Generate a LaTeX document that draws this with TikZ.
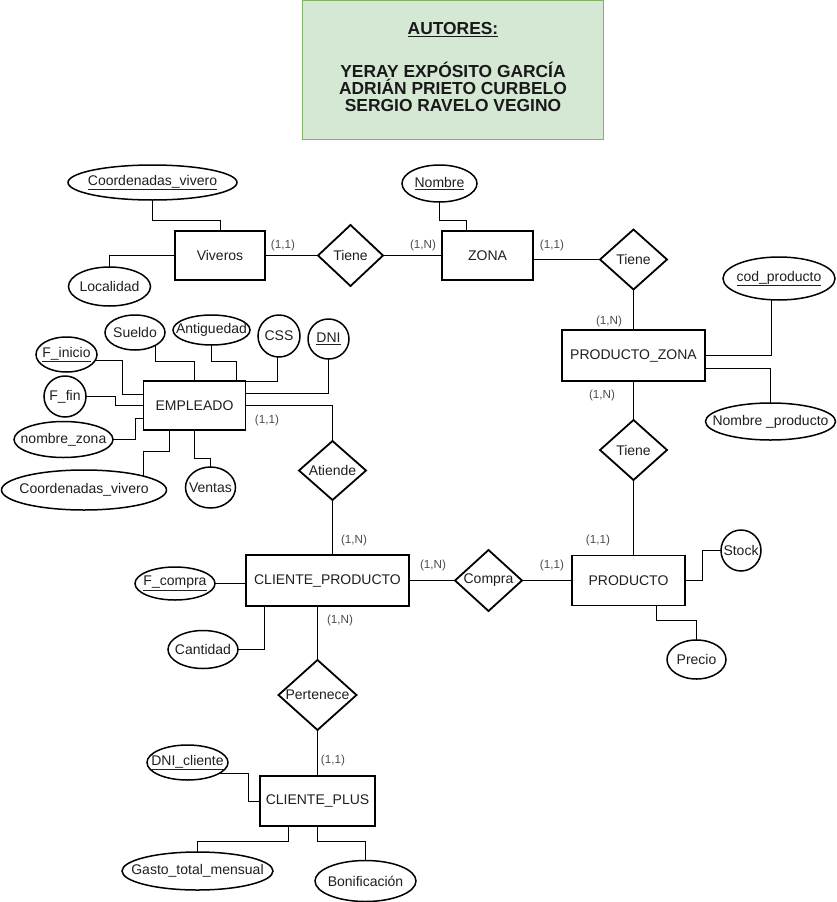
\documentclass[tikz,border=0pt]{standalone}
\usepackage{fontspec}
\setmainfont{Liberation Sans}
\usetikzlibrary{shapes.geometric,backgrounds}
% zero-width text so the shape keeps the size it is given
\newcommand\zw[1]{\makebox[0pt]{#1}}
\definecolor{titlefill}{HTML}{D5E8D4}
\definecolor{titleline}{HTML}{82B366}
\definecolor{cardtxt}{HTML}{4D4D4D}
\begin{document}
\begin{tikzpicture}[x=1pt,y=-1pt,
  base/.style={draw=black, fill=white, inner sep=0pt, outer sep=0pt,
    font=\fontsize{14}{16}\selectfont, text=black!88},
  entity/.style={base, rectangle, line width=1.8pt},
  rel/.style={base, diamond, line width=1.8pt},
  attr/.style={base, ellipse, line width=1.5pt},
  sz/.style args={#1x#2}{minimum width=#1pt, minimum height=#2pt},
  card/.style={inner sep=0pt, font=\fontsize{11.7}{14}\selectfont, text=cardtxt},
  link/.style={draw=black, line width=1pt},
  titletxt/.style={anchor=base, inner sep=0pt, font=\bfseries\fontsize{17.4}{20}\selectfont, text=black!90},
]
\useasboundingbox (0,0) rectangle (837,902);

% authors box
\node[draw=titleline, fill=titlefill, line width=1pt, sz=301x139, inner sep=0pt] (autores) at (453,70) {};
\node[titletxt] (t0) at (453,34.5) {\underline{AUTORES:}};
\node[titletxt] (t1) at (453,77.5) {YERAY EXPÓSITO GARCÍA};
\node[titletxt] (t2) at (453,94.5) {ADRIÁN PRIETO CURBELO};
\node[titletxt] (t3) at (453,111.5) {SERGIO RAVELO VEGINO};

% entities
\node[entity, sz=90x49]  (viv)   at (220,255.5)   {\zw{Viveros}};
\node[entity, sz=91x49]  (zona)  at (487.5,255.5) {\zw{ZONA}};
\node[entity, sz=143x51] (pz)    at (633.5,355.5) {\zw{PRODUCTO\_ZONA}};
\node[entity, sz=113x50] (prod)  at (628.5,580.5) {\zw{PRODUCTO}};
\node[entity, sz=163x51] (cp)    at (327.5,580.5) {\zw{CLIENTE\_PRODUCTO}};
\node[entity, sz=115x50] (cplus) at (317.5,801)   {\zw{CLIENTE\_PLUS}};
\node[entity, sz=102x49] (emp)   at (194.5,405.5) {\zw{EMPLEADO}};

% relationships
\node[rel, sz=65x61] (tiene1)    at (350.5,255.5) {\zw{Tiene}};
\node[rel, sz=67x60] (tiene2)    at (633.5,259.5) {\zw{Tiene}};
\node[rel, sz=67x60] (tiene3)    at (633.5,450)   {\zw{Tiene}};
\node[rel, sz=67x61] (compra)    at (488.5,580.5) {\zw{Compra}};
\node[rel, sz=67x59] (atiende)   at (332.5,470.5) {\zw{Atiende}};
\node[rel, sz=78x70] (pertenece) at (317.5,695)   {\zw{Pertenece}};

% attributes
\node[attr, sz=169x35] (coordv)   at (152.5,182.5) {\zw{\underline{Coordenadas\_vivero}}};
\node[attr, sz=82x39]  (local)    at (109.5,286.5) {\zw{Localidad}};
\node[attr, sz=75x37]  (nombre)   at (439.5,183.5) {\zw{\underline{Nombre}}};
\node[attr, sz=112x43] (codp)     at (779,278.5)   {\zw{\underline{cod\_producto}}};
\node[attr, sz=130x37] (nomp)     at (770.5,421.5) {\zw{Nombre \_producto}};
\node[attr, sz=40x41]  (stock)    at (741,550.5)   {\zw{Stock}};
\node[attr, sz=59x39]  (precio)   at (696.5,659.5) {\zw{Precio}};
\node[attr, sz=80x33]  (fcompra)  at (175,583.5)   {\zw{\underline{F\_compra}}};
\node[attr, sz=70x38]  (cantidad) at (203,649.5)   {\zw{Cantidad}};
\node[attr, sz=81x35]  (dnic)     at (187.5,762.5) {\zw{\underline{DNI\_cliente}}};
\node[attr, sz=151x38] (gasto)    at (197.5,871)   {\zw{Gasto\_total\_mensual}};
\node[attr, sz=101x41] (bonif)    at (365.5,881)   {\zw{Bonificación}};
\node[attr, sz=61x35]  (finicio)  at (66.5,354.5)  {\zw{\underline{F\_inicio}}};
\node[attr, sz=60x35]  (sueldo)   at (135,332.5)   {\zw{Sueldo}};
\node[attr, sz=77x30]  (antig)    at (211.5,330)   {\zw{Antiguedad}};
\node[attr, sz=42x42]  (css)      at (279,336)     {\zw{CSS}};
\node[attr, sz=41x40]  (dni)      at (328.5,339)   {\zw{\underline{DNI}}};
\node[attr, sz=42x41]  (ffin)     at (65,396.5)    {\zw{F\_fin}};
\node[attr, sz=99x36]  (nzona)    at (63.5,439.5)  {\zw{nombre\_zona}};
\node[attr, sz=165x40] (cv2)      at (84,490)      {\zw{Coordenadas\_vivero}};
\node[attr, sz=50x41]  (ventas)   at (210.5,487.5) {\zw{Ventas}};

% cardinalities
\node[card] (c1)  at (283,245) {(1,1)};
\node[card] (c2)  at (423,245) {(1,N)};
\node[card] (c3)  at (552,245) {(1,1)};
\node[card] (c4)  at (609,321) {(1,N)};
\node[card] (c5)  at (602,395) {(1,N)};
\node[card] (c6)  at (598,540) {(1,1)};
\node[card] (c7)  at (552,565) {(1,1)};
\node[card] (c8)  at (433,565) {(1,N)};
\node[card] (c9)  at (354,540) {(1,N)};
\node[card] (c10) at (340,620) {(1,N)};
\node[card] (c11) at (267,420) {(1,1)};
\node[card] (c12) at (333,760) {(1,1)};

% connectors, kept under the shapes
\begin{pgfonlayer}{background}
  % Viveros / ZONA
  \draw[link] (coordv.center) |- (220.5,220.5) -- ([xshift=0.5pt]viv.center);
  \draw[link] (local.center) |- (viv.center);
  \draw[link] (viv.center) -- (tiene1.center) -- (zona.center);
  \draw[link] (nombre.center) |- (466.5,220.5) -- ([xshift=-21pt]zona.center);
  \draw[link] (zona.center |- tiene2.center) -- (tiene2.center) -- (pz.center);
  % PRODUCTO_ZONA
  \draw[link] ([xshift=-7.5pt]codp.center) |- (pz.center);
  \draw[link] ([yshift=-13pt]pz.center) -| (nomp.center);
  \draw[link] (pz.center) -- (tiene3.center) -- (tiene3.center |- prod.center);
  % PRODUCTO
  \draw[link] (prod.center) -- (702.5,580.5) |- (stock.center);
  \draw[link] ([xshift=28pt]prod.center) |- (696.5,620.5) -- (precio.center);
  \draw[link] (cp.center) -- (compra.center) -- (prod.center);
  % EMPLEADO
  \draw[link] (emp.center) -| (atiende.center);
  \draw[link] (atiende.center) -- (atiende.center |- cp.center);
  \draw[link] ([yshift=-6pt]finicio.center) -| (122.5,394.5) -- ([yshift=11pt]emp.center);
  \draw[link] ([xshift=20.5pt]sueldo.center) |- (194.5,361.5) -- (emp.center);
  \draw[link] (antig.center) |- (236.5,361.5) -- ([xshift=42pt]emp.center);
  \draw[link] ([xshift=-1.5pt]css.center) |- (emp.north east);
  \draw[link] (dni.center) |- ([yshift=12pt]emp.center);
  \draw[link] (ffin.center) -| (115.5,405.5) -- (emp.center);
  \draw[link] (nzona.center) -| (135.5,418.5) -- ([yshift=-13pt]emp.center);
  \draw[link] ([xshift=59.5pt]cv2.center) |- (169.5,451.5) -- ([xshift=-25pt]emp.center);
  \draw[link] (emp.center) |- (210.5,458.5) -- (ventas.center);
  % CLIENTE_PRODUCTO
  \draw[link] (fcompra.center) -- (fcompra.center -| cp.center);
  \draw[link] ([xshift=-63pt]cp.center) |- (cantidad.center);
  \draw[link] (pertenece.center |- cp.center) -- (pertenece.center) -- (cplus.center);
  % CLIENTE_PLUS
  \draw[link] ([yshift=-11pt]dnic.center) -| (248.5,801) -- (cplus.center);
  \draw[link] ([xshift=-29pt]cplus.center) |- (197.5,841.5) -- (gasto.center);
  \draw[link] (cplus.center) |- (365.5,841.5) -- (bonif.center);
\end{pgfonlayer}
\end{tikzpicture}
\end{document}
